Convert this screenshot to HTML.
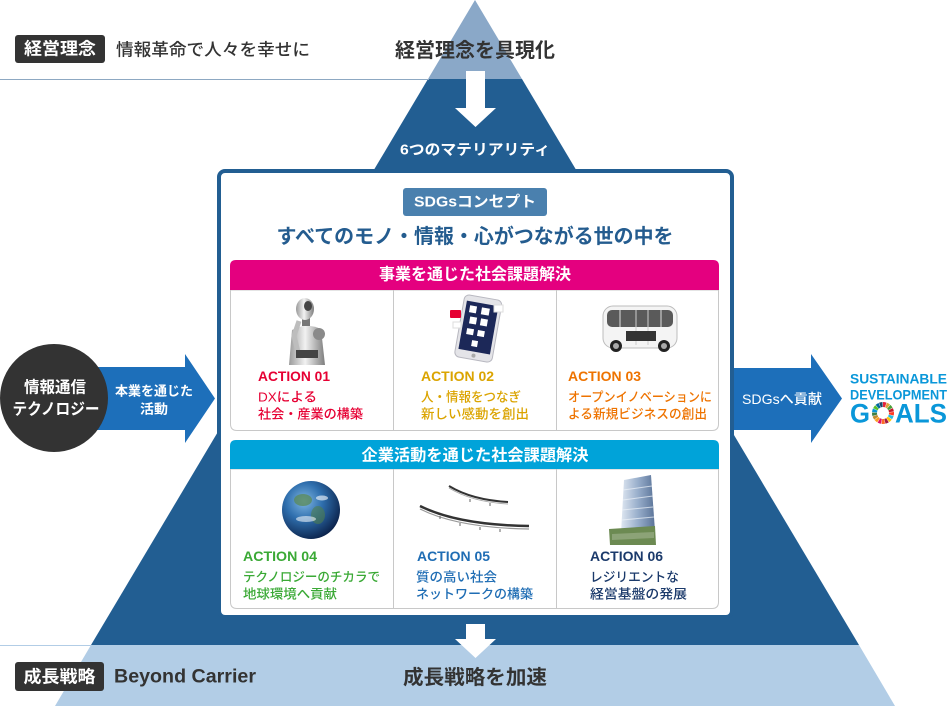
<!DOCTYPE html>
<html><head><meta charset="utf-8"><style>
html,body{margin:0;padding:0;background:#fff;width:950px;height:706px;overflow:hidden}
svg{display:block}
text{font-family:"Liberation Sans","Noto Sans CJK JP",sans-serif}
</style></head><body>
<svg width="950" height="706" viewBox="0 0 950 706" xmlns="http://www.w3.org/2000/svg">
<defs>
<linearGradient id="silver" x1="0" y1="0" x2="1" y2="0"><stop offset="0" stop-color="#9a9a9a"/><stop offset=".45" stop-color="#f2f2f2"/><stop offset="1" stop-color="#7d7d7d"/></linearGradient>
<radialGradient id="earth" cx=".38" cy=".35" r=".7"><stop offset="0" stop-color="#7fb6e2"/><stop offset=".45" stop-color="#2f6fae"/><stop offset="1" stop-color="#0a2048"/></radialGradient>
<linearGradient id="bld" x1="0" y1="0" x2="1" y2="0"><stop offset="0" stop-color="#dfe7f1"/><stop offset=".5" stop-color="#98aecb"/><stop offset="1" stop-color="#5a7398"/></linearGradient>
</defs>

<!-- pyramid -->
<polygon points="475,0 428,79 522,79" fill="#8aa8c8"/>
<polygon points="428,79 522,79 859,645 91,645" fill="#225e92"/>
<polygon points="91,645 859,645 895,706 55,706" fill="#b2cde6"/>
<line x1="0" y1="79.5" x2="429" y2="79.5" stroke="#8da8c2" stroke-width="1"/>
<line x1="0" y1="645.5" x2="91" y2="645.5" stroke="#b2cde6" stroke-width="1"/>

<!-- top -->
<rect x="15" y="35" width="90" height="28" rx="3" fill="#333"/>
<text x="60" y="49" text-anchor="middle" dominant-baseline="central" font-size="17" font-weight="bold" fill="#fff" textLength="72" lengthAdjust="spacingAndGlyphs">経営理念</text>
<text x="116" y="50" dominant-baseline="central" font-size="17" font-weight="500" fill="#333" textLength="194" lengthAdjust="spacingAndGlyphs">情報革命で人々を幸せに</text>
<text x="475" y="51" text-anchor="middle" dominant-baseline="central" font-size="20" font-weight="bold" fill="#333" textLength="160" lengthAdjust="spacingAndGlyphs">経営理念を具現化</text>
<polygon points="466,71 485,71 485,108 496,108 475.5,127 455,108 466,108" fill="#fff"/>
<text x="475" y="150" text-anchor="middle" dominant-baseline="central" font-size="15" font-weight="bold" fill="#fff" textLength="150" lengthAdjust="spacingAndGlyphs">6つのマテリアリティ</text>

<!-- left arrow + circle -->
<polygon points="60,367 185,367 185,354 215,398.5 185,443 185,430 60,430" fill="#1d6fba"/>
<circle cx="54" cy="398" r="54" fill="#333"/>
<text x="55" y="388" text-anchor="middle" dominant-baseline="central" font-size="16" font-weight="bold" fill="#fff" textLength="62" lengthAdjust="spacingAndGlyphs">情報通信</text>
<text x="56" y="410" text-anchor="middle" dominant-baseline="central" font-size="16" font-weight="bold" fill="#fff" textLength="87" lengthAdjust="spacingAndGlyphs">テクノロジー</text>
<text x="154" y="391" text-anchor="middle" dominant-baseline="central" font-size="13" font-weight="bold" fill="#fff" textLength="78" lengthAdjust="spacingAndGlyphs">本業を通じた</text>
<text x="154" y="409" text-anchor="middle" dominant-baseline="central" font-size="13" font-weight="bold" fill="#fff" textLength="28" lengthAdjust="spacingAndGlyphs">活動</text>

<!-- right arrow -->
<polygon points="733,368 811,368 811,354 842,398.5 811,443 811,430 733,430" fill="#1d6fba"/>
<text x="742" y="399" dominant-baseline="central" font-size="14" font-weight="500" fill="#fff" textLength="80" lengthAdjust="spacingAndGlyphs">SDGsへ貢献</text>

<!-- SDGs logo -->
<text x="850" y="378.5" dominant-baseline="central" font-size="14" font-weight="bold" fill="#0a97d9" textLength="97" lengthAdjust="spacingAndGlyphs">SUSTAINABLE</text>
<text x="850" y="394.5" dominant-baseline="central" font-size="14" font-weight="bold" fill="#0a97d9" textLength="97" lengthAdjust="spacingAndGlyphs">DEVELOPMENT</text>
<text x="850" y="413.5" dominant-baseline="central" font-size="27" font-weight="bold" fill="#0a97d9" textLength="20" lengthAdjust="spacingAndGlyphs">G</text>
<text x="895" y="413.5" dominant-baseline="central" font-size="27" font-weight="bold" fill="#0a97d9" textLength="52" lengthAdjust="spacingAndGlyphs">ALS</text>
<g fill="none" stroke-width="5" stroke-dasharray="2.75 50.66">
<circle cx="883" cy="413" r="8.5" stroke="#e5243b" transform="rotate(-90 883 413)"/>
<circle cx="883" cy="413" r="8.5" stroke="#dda63a" transform="rotate(-68.8 883 413)"/>
<circle cx="883" cy="413" r="8.5" stroke="#4c9f38" transform="rotate(-47.6 883 413)"/>
<circle cx="883" cy="413" r="8.5" stroke="#c5192d" transform="rotate(-26.5 883 413)"/>
<circle cx="883" cy="413" r="8.5" stroke="#ff3a21" transform="rotate(-5.3 883 413)"/>
<circle cx="883" cy="413" r="8.5" stroke="#26bde2" transform="rotate(15.9 883 413)"/>
<circle cx="883" cy="413" r="8.5" stroke="#fcc30b" transform="rotate(37.1 883 413)"/>
<circle cx="883" cy="413" r="8.5" stroke="#a21942" transform="rotate(58.2 883 413)"/>
<circle cx="883" cy="413" r="8.5" stroke="#fd6925" transform="rotate(79.4 883 413)"/>
<circle cx="883" cy="413" r="8.5" stroke="#dd1367" transform="rotate(100.6 883 413)"/>
<circle cx="883" cy="413" r="8.5" stroke="#fd9d24" transform="rotate(121.8 883 413)"/>
<circle cx="883" cy="413" r="8.5" stroke="#bf8b2e" transform="rotate(142.9 883 413)"/>
<circle cx="883" cy="413" r="8.5" stroke="#3f7e44" transform="rotate(164.1 883 413)"/>
<circle cx="883" cy="413" r="8.5" stroke="#0a97d9" transform="rotate(185.3 883 413)"/>
<circle cx="883" cy="413" r="8.5" stroke="#56c02b" transform="rotate(206.5 883 413)"/>
<circle cx="883" cy="413" r="8.5" stroke="#00689d" transform="rotate(227.6 883 413)"/>
<circle cx="883" cy="413" r="8.5" stroke="#19486a" transform="rotate(248.8 883 413)"/>
</g>

<!-- main box -->
<rect x="219" y="171" width="513" height="446" rx="6" fill="#fff" stroke="#225e92" stroke-width="4"/>
<rect x="403" y="188" width="144" height="28" rx="3" fill="#4a80ae"/>
<text x="475" y="202" text-anchor="middle" dominant-baseline="central" font-size="15" font-weight="bold" fill="#fff" textLength="122" lengthAdjust="spacingAndGlyphs">SDGsコンセプト</text>
<text x="475" y="237" text-anchor="middle" dominant-baseline="central" font-size="20" font-weight="bold" fill="#245c8f" textLength="397" lengthAdjust="spacingAndGlyphs">すべてのモノ・情報・心がつながる世の中を</text>

<!-- panel 1 -->
<path d="M230.5,290 V424 Q230.5,430.5 237,430.5 H712 Q718.5,430.5 718.5,424 V290 Z" fill="#fff" stroke="#c8c8c8"/>
<line x1="393.5" y1="290" x2="393.5" y2="430" stroke="#c8c8c8"/>
<line x1="556.5" y1="290" x2="556.5" y2="430" stroke="#c8c8c8"/>
<path d="M230,290 V266 Q230,260 236,260 H713 Q719,260 719,266 V290 Z" fill="#e4007f"/>
<text x="475" y="275" text-anchor="middle" dominant-baseline="central" font-size="16" font-weight="bold" fill="#fff" textLength="192" lengthAdjust="spacingAndGlyphs">事業を通じた社会課題解決</text>

<!-- robot -->
<path d="M292,330 Q306,322 321,329 L325,365 L289,365 Z" fill="url(#silver)"/>
<rect x="302" y="316" width="8" height="10" fill="#777"/>
<ellipse cx="305" cy="309" rx="9" ry="11" fill="url(#silver)"/>
<ellipse cx="308" cy="306" rx="4" ry="5" fill="#444"/>
<circle cx="319" cy="334" r="6" fill="#8a8a8a"/>
<path d="M298,352 L294,336 L299,321" stroke="#bdbdbd" stroke-width="5" fill="none"/>
<rect x="296" y="350" width="22" height="8" fill="#444"/>

<!-- phone -->
<g transform="rotate(10 478 330)">
<rect x="459" y="297" width="38" height="63" rx="5" fill="#e4e4e8" stroke="#b8b8c0"/>
<rect x="462" y="303" width="32" height="49" fill="#1c2858"/>
<rect x="466" y="307" width="7" height="7" fill="#fff"/><rect x="478" y="307" width="8" height="7" fill="#fff"/>
<rect x="468" y="318" width="7" height="7" fill="#fff"/><rect x="479" y="318" width="7" height="7" fill="#fff"/>
<rect x="467" y="330" width="7" height="6" fill="#fff"/><rect x="478" y="330" width="7" height="6" fill="#fff"/>
<rect x="474" y="341" width="6" height="6" fill="#fff"/>
<circle cx="478" cy="356" r="2" fill="#aaa"/>
</g>
<rect x="450" y="310" width="11" height="8" rx="1" fill="#e60033"/>
<rect x="494" y="305" width="9" height="7" fill="#fff" stroke="#ddd"/>
<rect x="453" y="322" width="8" height="6" fill="#fff" stroke="#ddd"/>

<!-- bus -->
<rect x="603" y="306" width="74" height="42" rx="10" fill="#f4f4f4" stroke="#bdbdbd"/>
<rect x="607" y="310" width="66" height="17" rx="5" fill="#5a5a5a"/>
<line x1="620" y1="310" x2="620" y2="327" stroke="#ddd"/><line x1="636" y1="310" x2="636" y2="345" stroke="#ccc"/><line x1="648" y1="310" x2="648" y2="345" stroke="#ccc"/><line x1="661" y1="310" x2="661" y2="327" stroke="#ddd"/>
<rect x="626" y="331" width="30" height="10" fill="#333"/>
<circle cx="616" cy="346" r="6" fill="#222"/><circle cx="616" cy="346" r="3" fill="#aaa"/>
<circle cx="664" cy="346" r="6" fill="#222"/><circle cx="664" cy="346" r="3" fill="#aaa"/>

<g dominant-baseline="central" lengthAdjust="spacingAndGlyphs">
<text x="258" y="376" dominant-baseline="central" font-size="14" font-weight="bold" fill="#e60033" textLength="72" lengthAdjust="spacingAndGlyphs">ACTION 01</text>
<text x="258" y="397" dominant-baseline="central" font-size="13" font-weight="500" fill="#e60033" textLength="59" lengthAdjust="spacingAndGlyphs">DXによる</text>
<text x="258" y="414" dominant-baseline="central" font-size="13" font-weight="500" fill="#e60033" textLength="105" lengthAdjust="spacingAndGlyphs">社会・産業の構築</text>
<text x="421" y="376" dominant-baseline="central" font-size="14" font-weight="bold" fill="#dba400" textLength="73" lengthAdjust="spacingAndGlyphs">ACTION 02</text>
<text x="421" y="397" dominant-baseline="central" font-size="13" font-weight="500" fill="#dba400" textLength="100" lengthAdjust="spacingAndGlyphs">人・情報をつなぎ</text>
<text x="421" y="414" dominant-baseline="central" font-size="13" font-weight="500" fill="#dba400" textLength="108" lengthAdjust="spacingAndGlyphs">新しい感動を創出</text>
<text x="568" y="376" dominant-baseline="central" font-size="14" font-weight="bold" fill="#ee7300" textLength="73" lengthAdjust="spacingAndGlyphs">ACTION 03</text>
<text x="568" y="397" dominant-baseline="central" font-size="13" font-weight="500" fill="#ee7300" textLength="144" lengthAdjust="spacingAndGlyphs">オープンイノベーションに</text>
<text x="568" y="414" dominant-baseline="central" font-size="13" font-weight="500" fill="#ee7300" textLength="139" lengthAdjust="spacingAndGlyphs">よる新規ビジネスの創出</text>
</g>

<!-- panel 2 -->
<path d="M230.5,469 V602 Q230.5,608.5 237,608.5 H712 Q718.5,608.5 718.5,602 V469 Z" fill="#fff" stroke="#c8c8c8"/>
<line x1="393.5" y1="469" x2="393.5" y2="608" stroke="#c8c8c8"/>
<line x1="556.5" y1="469" x2="556.5" y2="608" stroke="#c8c8c8"/>
<path d="M230,469 V446 Q230,440 236,440 H713 Q719,440 719,446 V469 Z" fill="#00a3d9"/>
<text x="475" y="456" text-anchor="middle" dominant-baseline="central" font-size="16" font-weight="bold" fill="#fff" textLength="227" lengthAdjust="spacingAndGlyphs">企業活動を通じた社会課題解決</text>

<!-- earth -->
<circle cx="311" cy="510" r="29" fill="url(#earth)"/>
<ellipse cx="303" cy="500" rx="9" ry="6" fill="#5b8a55" opacity=".75"/>
<ellipse cx="318" cy="515" rx="7" ry="9" fill="#4f7d4c" opacity=".6"/>
<ellipse cx="306" cy="519" rx="10" ry="3" fill="#fff" opacity=".55"/>
<ellipse cx="322" cy="498" rx="6" ry="2.5" fill="#fff" opacity=".6"/>

<!-- cables -->
<path d="M449,486 Q472,500 508,502" stroke="#333" stroke-width="2" fill="none"/>
<path d="M449,488 Q472,502 508,504" stroke="#aaa" stroke-width="1" fill="none"/>
<path d="M420,506 Q458,525 529,526" stroke="#333" stroke-width="2.5" fill="none"/>
<path d="M420,509 Q458,528 529,529" stroke="#999" stroke-width="1.2" fill="none"/>
<path d="M470,499 v3 M490,503 v3 M440,516 v3 M460,523 v3 M480,527 v3 M500,529 v3" stroke="#666" stroke-width="1"/>

<!-- building -->
<polygon points="624,480 651,475 655,531 621,533" fill="url(#bld)"/>
<path d="M623,490 L652,486 M623,500 L653,496 M622,510 L653,507 M622,520 L654,517" stroke="#eef3f9" stroke-width="1" opacity=".7"/>
<polygon points="609,529 655,526 656,545 610,545" fill="#6c8a52"/>
<polygon points="612,534 654,532 654,538 612,540" fill="#9aae88" opacity=".7"/>

<text x="243" y="556" dominant-baseline="central" font-size="14" font-weight="bold" fill="#3aa935" textLength="74" lengthAdjust="spacingAndGlyphs">ACTION 04</text>
<text x="243" y="577" dominant-baseline="central" font-size="13" font-weight="500" fill="#3aa935" textLength="137" lengthAdjust="spacingAndGlyphs">テクノロジーのチカラで</text>
<text x="243" y="594" dominant-baseline="central" font-size="13" font-weight="500" fill="#3aa935" textLength="94" lengthAdjust="spacingAndGlyphs">地球環境へ貢献</text>
<text x="417" y="556" dominant-baseline="central" font-size="14" font-weight="bold" fill="#1f6db4" textLength="73" lengthAdjust="spacingAndGlyphs">ACTION 05</text>
<text x="416" y="577" dominant-baseline="central" font-size="13" font-weight="500" fill="#1f6db4" textLength="81" lengthAdjust="spacingAndGlyphs">質の高い社会</text>
<text x="416" y="594" dominant-baseline="central" font-size="13" font-weight="500" fill="#1f6db4" textLength="117" lengthAdjust="spacingAndGlyphs">ネットワークの構築</text>
<text x="590" y="556" dominant-baseline="central" font-size="14" font-weight="bold" fill="#1b3a6b" textLength="73" lengthAdjust="spacingAndGlyphs">ACTION 06</text>
<text x="590" y="577" dominant-baseline="central" font-size="13" font-weight="500" fill="#1b3a6b" textLength="89" lengthAdjust="spacingAndGlyphs">レジリエントな</text>
<text x="590" y="594" dominant-baseline="central" font-size="13" font-weight="500" fill="#1b3a6b" textLength="97" lengthAdjust="spacingAndGlyphs">経営基盤の発展</text>

<!-- bottom -->
<polygon points="466,624 485,624 485,639 496,639 475.5,658 455,639 466,639" fill="#fff"/>
<rect x="15" y="662" width="89" height="29" rx="3" fill="#333"/>
<text x="59.5" y="677" text-anchor="middle" dominant-baseline="central" font-size="17" font-weight="bold" fill="#fff" textLength="72" lengthAdjust="spacingAndGlyphs">成長戦略</text>
<text x="114" y="677" dominant-baseline="central" font-size="19" font-weight="bold" fill="#333" textLength="142" lengthAdjust="spacingAndGlyphs">Beyond Carrier</text>
<text x="475" y="678" text-anchor="middle" dominant-baseline="central" font-size="20" font-weight="bold" fill="#333" textLength="144" lengthAdjust="spacingAndGlyphs">成長戦略を加速</text>
</svg>
</body></html>
